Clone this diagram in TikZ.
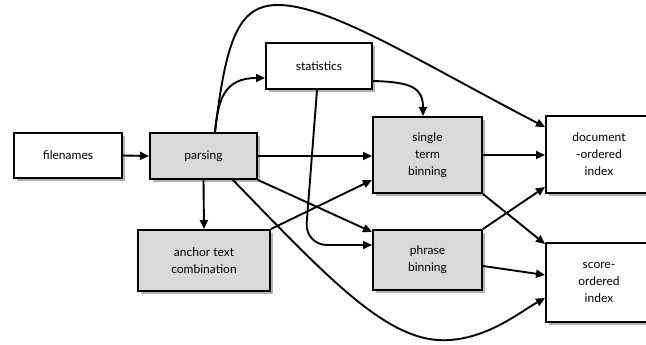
\documentclass[tikz,border=0pt]{standalone}
\usepackage{fontspec}
\setmainfont{Lato}
\usetikzlibrary{arrows.meta,shadows,calc}
\definecolor{boxgray}{HTML}{D9D9D9}
\begin{document}
\begin{tikzpicture}[x=1pt,y=-1pt,
  box/.style={draw=black,line width=2pt,fill=white,align=center,inner sep=0pt,
    font=\fontsize{12}{17}\selectfont,
    drop shadow={shadow xshift=2.5pt,shadow yshift=-3pt,opacity=0.3,fill=black}},
  graybox/.style={box,fill=boxgray},
  conn/.style={line width=1.9pt,-{Triangle[length=9pt,width=8pt]}}]
\clip (0,0) rectangle (646,345);
\fill[white] (0,0) rectangle (646,345);
\node[box,minimum width=108pt,minimum height=45pt] (files) at (68,155.5) {filenames};
\node[graybox,minimum width=107pt,minimum height=46pt] (pars) at (203.5,156) {parsing};
\node[graybox,minimum width=132pt,minimum height=61pt] (anch) at (204,260.5) {anchor text\\combination};
\node[box,minimum width=106pt,minimum height=46pt] (stat) at (319,66) {statistics};
\node[graybox,minimum width=109pt,minimum height=76pt] (single) at (427.5,155) {single\\term\\binning};
\node[graybox,minimum width=109pt,minimum height=60pt] (phrase) at (427.5,260) {phrase\\binning};
\node[box,minimum width=106pt,minimum height=77pt] (doc) at (599,154.5) {document\\-ordered\\index};
\node[box,minimum width=106pt,minimum height=79pt] (score) at (599,282.5) {score-\\ordered\\index};

\draw[conn] (files.east) -- (pars.west);
\draw[conn] (pars.south) -- (anch.north);
\draw[conn] (pars.east) -- (pars.east -| single.west);
\draw[conn] ([xshift=11.5pt]pars.north) .. controls (218,100) and (224,78) .. ([yshift=-12pt]stat.west);
\draw[conn] ([xshift=11.5pt]pars.north) .. controls (226,40) and (238,5) .. (278,5)
   .. controls (330,5) and (420,62) .. ([yshift=27.5pt]doc.west);
\draw[conn] ([yshift=-15pt]stat.east) .. controls (412,82) and (423,88) .. ([xshift=-4.5pt]single.north);
\draw[conn,rounded corners=22pt] ([xshift=-2pt]stat.south) -- (305,245) -- ([yshift=15pt]phrase.west);
\draw[conn] (pars.south east) -- ([yshift=-3pt]phrase.north west);
\draw[conn] ([xshift=29.5pt]pars.south) .. controls (330,280) and (390,345) .. (450,340)
   .. controls (490,337) and (520,312) .. ([yshift=-15.5pt]score.west);
\draw[conn] (anch.north east) -- ([yshift=-25pt]single.west);
\draw[conn] (single.east) -- (single.east -| doc.west);
\draw[conn] (single.south east) -- ([yshift=-2pt]score.north west);
\draw[conn] (phrase.north east) -- ([yshift=-32.5pt]doc.west);
\draw[conn] ([yshift=-6pt]phrase.east) -- ([yshift=7.5pt]score.west);
\end{tikzpicture}
\end{document}
